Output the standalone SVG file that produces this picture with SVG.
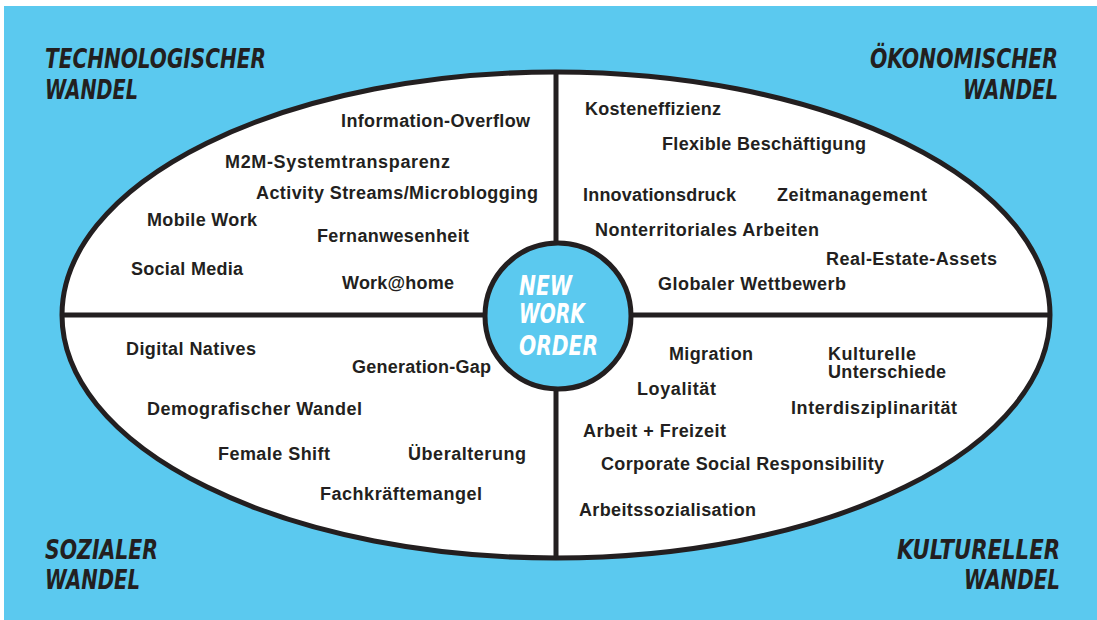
<svg xmlns="http://www.w3.org/2000/svg" width="1097" height="620" viewBox="0 0 1097 620">
  <style>
    .item { font-family: "Liberation Sans", Arial, sans-serif; font-weight: bold; font-size: 18px; fill: #231f20; }
    .title { font-family: "DejaVu Sans Condensed", "DejaVu Sans", sans-serif; font-weight: bold; font-style: italic; font-size: 27px; fill: #231f20; }
    .center { font-family: "DejaVu Sans Condensed", "DejaVu Sans", sans-serif; font-weight: bold; font-style: italic; font-size: 26px; fill: #ffffff; }
    .line { stroke: #231f20; stroke-width: 5; fill: none; }
  </style>
  <rect x="0" y="0" width="1097" height="620" fill="#ffffff"/>
  <rect x="4" y="6" width="1093" height="614" fill="#5bc9ef"/>

  <g id="ellipse">
    <ellipse cx="556" cy="315" rx="494" ry="243" fill="#ffffff" stroke="#231f20" stroke-width="5"/>
  </g>

  <g id="connectors">
    <line class="line" x1="556" y1="72" x2="556" y2="558"/>
    <line class="line" x1="62" y1="315" x2="1050" y2="315"/>
  </g>

  <g id="titles">
    <text class="title" x="45" y="68" textLength="221" lengthAdjust="spacingAndGlyphs">TECHNOLOGISCHER</text>
    <text class="title" x="45" y="99" textLength="93" lengthAdjust="spacingAndGlyphs">WANDEL</text>
    <text class="title" x="870" y="68" textLength="188" lengthAdjust="spacingAndGlyphs">ÖKONOMISCHER</text>
    <text class="title" x="963" y="99" textLength="95" lengthAdjust="spacingAndGlyphs">WANDEL</text>
    <text class="title" x="45" y="559" textLength="113" lengthAdjust="spacingAndGlyphs">SOZIALER</text>
    <text class="title" x="45" y="589" textLength="95" lengthAdjust="spacingAndGlyphs">WANDEL</text>
    <text class="title" x="897" y="559" textLength="163" lengthAdjust="spacingAndGlyphs">KULTURELLER</text>
    <text class="title" x="964" y="589" textLength="96" lengthAdjust="spacingAndGlyphs">WANDEL</text>
  </g>

  <g id="technologischer-wandel">
    <text class="item" x="341" y="127" textLength="189">Information-Overflow</text>
    <text class="item" x="225" y="168" textLength="225">M2M-Systemtransparenz</text>
    <text class="item" x="256" y="199" textLength="282">Activity Streams/Microblogging</text>
    <text class="item" x="147" y="226" textLength="110">Mobile Work</text>
    <text class="item" x="317" y="242" textLength="152">Fernanwesenheit</text>
    <text class="item" x="131" y="275" textLength="112">Social Media</text>
    <text class="item" x="342" y="289" textLength="112">Work@home</text>
  </g>

  <g id="oekonomischer-wandel">
    <text class="item" x="585" y="115" textLength="136">Kosteneffizienz</text>
    <text class="item" x="662" y="150" textLength="204">Flexible Beschäftigung</text>
    <text class="item" x="583" y="201" textLength="153">Innovationsdruck</text>
    <text class="item" x="777" y="201" textLength="150">Zeitmanagement</text>
    <text class="item" x="595" y="236" textLength="224">Nonterritoriales Arbeiten</text>
    <text class="item" x="826" y="265" textLength="171">Real-Estate-Assets</text>
    <text class="item" x="658" y="290" textLength="188">Globaler Wettbewerb</text>
  </g>

  <g id="sozialer-wandel">
    <text class="item" x="126" y="355" textLength="130">Digital Natives</text>
    <text class="item" x="352" y="373" textLength="139">Generation-Gap</text>
    <text class="item" x="147" y="415" textLength="215">Demografischer Wandel</text>
    <text class="item" x="218" y="460" textLength="112">Female Shift</text>
    <text class="item" x="408" y="460" textLength="118">Überalterung</text>
    <text class="item" x="320" y="500" textLength="162">Fachkräftemangel</text>
  </g>

  <g id="kultureller-wandel">
    <text class="item" x="669" y="360" textLength="84">Migration</text>
    <text class="item" x="828" y="360" textLength="88">Kulturelle</text>
    <text class="item" x="828" y="378" textLength="118">Unterschiede</text>
    <text class="item" x="637" y="395" textLength="79">Loyalität</text>
    <text class="item" x="791" y="414" textLength="166">Interdisziplinarität</text>
    <text class="item" x="583" y="437" textLength="143">Arbeit + Freizeit</text>
    <text class="item" x="601" y="470" textLength="283">Corporate Social Responsibility</text>
    <text class="item" x="579" y="516" textLength="177">Arbeitssozialisation</text>
  </g>

  <g id="new-work-order">
    <circle cx="558" cy="316" r="73" fill="#5bc9ef" stroke="#231f20" stroke-width="5"/>
    <text class="center" x="519" y="295" textLength="53" lengthAdjust="spacingAndGlyphs">NEW</text>
    <text class="center" x="519" y="323" textLength="66" lengthAdjust="spacingAndGlyphs">WORK</text>
    <text class="center" x="519" y="355" textLength="79" lengthAdjust="spacingAndGlyphs">ORDER</text>
  </g>
</svg>
